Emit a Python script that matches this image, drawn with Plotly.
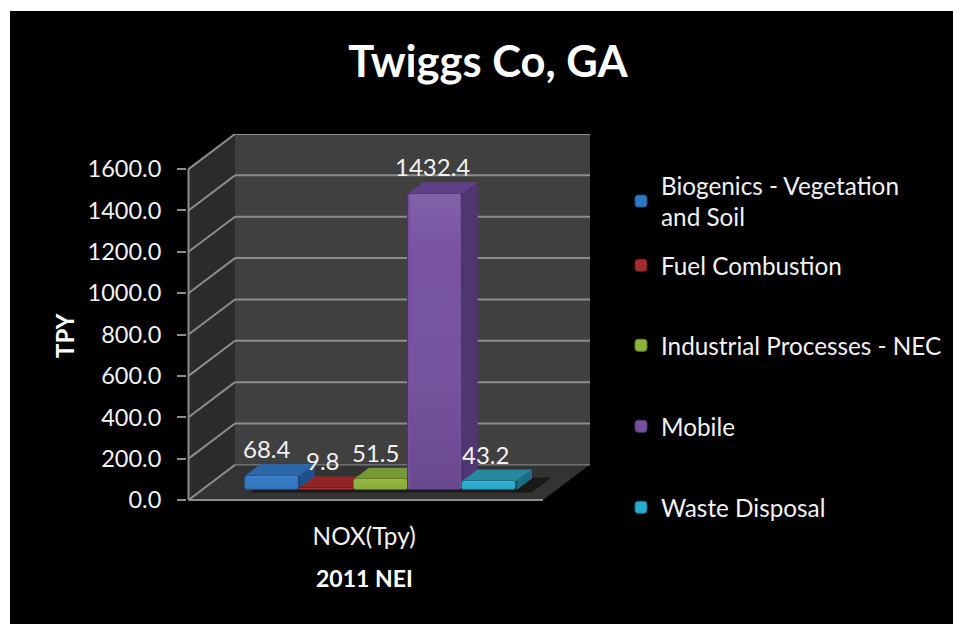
import plotly.graph_objects as go

series = ["Biogenics - Vegetation<br>and Soil", "Fuel Combustion", "Industrial Processes - NEC", "Mobile", "Waste Disposal"]
values = [68.4, 9.8, 51.5, 1432.4, 43.2]
front_colors = ["#2f78c4", "#a52c2c", "#8db33a", "#75509f", "#28acd0"]
top_colors = ["#2a66a8", "#8f2525", "#759a34", "#5f4088", "#26899f"]
side_colors = ["#20508a", "#6e1c1c", "#5f7d2a", "#4f3571", "#1c6e82"]
label_shift = [-5, -3, -5.5, -3, -3.5]
y_ticks = [0, 200, 400, 600, 800, 1000, 1200, 1400, 1600]
category = "NOX(Tpy)"
x_title = "2011 NEI"
y_title = "TPY"
title = "Twiggs Co, GA"
FONT = "Lato, Carlito, Calibri, sans-serif"
TEXT = "#f2f2f2"

W, H = 953, 624
L, R, T, B = 187, 590, 134, 502
PX_Y = 0.20625        # pixels per value unit
PX_X = 54.3           # pixels per bar slot
DX, DY = 46.5 / PX_X, 35 / PX_Y        # wall depth
BX, BY = 15.5 / PX_X, 11.5 / PX_Y      # bar depth
XMIN = -1.5 / PX_X
YMIN = -2 / PX_Y
YTOP = 1600 + DY
XMAX = XMIN + (R - L) / PX_X
FLOOR_W = 354.5 / PX_X
OFFX, OFFY = 0.286 * DX, 0.286 * DY
START = 1.04
centers = [START + 0.5 + i for i in range(len(values))]


def poly(pts, fill, line=None, width=0):
    path = "M " + " L ".join(f"{x},{y}" for x, y in pts) + " Z"
    return dict(type="path", path=path, xref="x", yref="y", layer="below", fillcolor=fill,
                line=dict(color=line or fill, width=width))


def seg(x0, y0, x1, y1, color="#8c8c8c", width=2):
    return dict(type="line", x0=x0, y0=y0, x1=x1, y1=y1, xref="x", yref="y", layer="below",
                line=dict(color=color, width=width))


def px_x(p):
    return (p - L) / (R - L)


def px_y(p):
    return (B - p) / (B - T)


shapes = [
    dict(type="rect", xref="paper", yref="paper", x0=px_x(10), x1=px_x(W + 5), y0=px_y(H + 5), y1=px_y(11),
         fillcolor="#000000", line=dict(width=0), layer="below"),
    poly([(DX, DY), (XMAX, DY), (XMAX, YTOP), (DX, YTOP)], "#404040"),
    poly([(0, 0), (DX, DY), (DX, YTOP), (0, 1600)], "#2b2b2b"),
    poly([(0, 0), (FLOOR_W, 0), (FLOOR_W + DX, DY), (DX, DY)], "#333333"),
]
for t in y_ticks[1:]:
    shapes.append(seg(0, t, DX, t + DY))
    shapes.append(seg(DX, t + DY, XMAX, t + DY))
shapes += [seg(0, 0, DX, DY), seg(DX, DY, XMAX, DY, width=1), seg(0, 0, 0, 1600), seg(0, 0, FLOOR_W, 0)]
# soft floor shadow under the bars
sx0, sx1 = START + OFFX - 0.15, START + OFFX + len(values)
shapes.append(poly([(sx0, OFFY - 12), (sx1 + 0.03, OFFY - 12), (sx1 + BX + 0.12, OFFY + BY + 5),
                    (sx0 + BX + 0.2, OFFY + BY + 5)], "rgba(0,0,0,0.5)"))
# depth faces of each bar, painted left to right
for i, v in enumerate(values):
    x0 = centers[i] - 0.5
    x1 = x0 + 1
    shapes.append(poly([(x1, OFFY), (x1 + BX, OFFY + BY), (x1 + BX, OFFY + BY + v), (x1, OFFY + v)], side_colors[i]))
    shapes.append(poly([(x0, OFFY + v), (x1, OFFY + v), (x1 + BX, OFFY + BY + v), (x0 + BX, OFFY + BY + v)], top_colors[i]))

fig = go.Figure()
legend_y = [163, 243, 323, 404, 485]
legends = {}
for i, (name, v) in enumerate(zip(series, values)):
    key = "legend" if i == 0 else f"legend{i + 1}"
    legends[key] = dict(x=px_x(621), y=px_y(legend_y[i]), xanchor="left", yanchor="top",
                        bgcolor="rgba(0,0,0,0)", itemwidth=30, borderwidth=0,
                        font=dict(family=FONT, size=24.3, color=TEXT), title=dict(text=""))
    fig.add_trace(go.Bar(x=[centers[i]], y=[v], base=[OFFY], width=[1], name=name, legend=key,
                         marker=dict(color=front_colors[i], line=dict(color=side_colors[i], width=1)),
                         hovertemplate=f"%{{y:.1f}}<extra></extra>"))
    # glossy sheen on the front face
    x0, x1 = centers[i] - 0.46, centers[i] + 0.46
    fig.add_trace(go.Scatter(x=[x0, x1, x1, x0, x0], y=[OFFY + v, OFFY + v, OFFY, OFFY, OFFY + v], mode="lines",
                             fill="toself", line=dict(width=0), showlegend=False, hoverinfo="skip",
                             fillgradient=dict(type="vertical",
                                               colorscale=[[0, "rgba(0,0,0,0.10)"], [0.8, "rgba(255,255,255,0.02)"],
                                                           [1, "rgba(255,255,255,0.10)"]])))

annotations = [
    dict(x=c, y=OFFY + v, xref="x", yref="y", yshift=27, xshift=s, text=f"{v:.1f}", showarrow=False,
         font=dict(family=FONT, size=24, color=TEXT))
    for c, v, s in zip(centers, values, label_shift)
]
annotations.append(dict(x=px_x(64), y=px_y(336), xref="paper", yref="paper", text=y_title, textangle=-90,
                        xanchor="center", yanchor="middle", showarrow=False,
                        font=dict(family=FONT, size=24, color="#ffffff", weight="bold")))
annotations.append(dict(x=FLOOR_W / 2 - 0.03, y=px_y(578), xref="x", yref="paper", text=x_title,
                        xanchor="center", yanchor="middle", showarrow=False,
                        font=dict(family=FONT, size=23, color="#ffffff", weight="bold")))

fig.update_layout(
    width=W, height=H, margin=dict(l=L, r=W - R, t=T, b=H - B, autoexpand=False),
    paper_bgcolor="#ffffff", plot_bgcolor="rgba(0,0,0,0)", shapes=shapes, annotations=annotations,
    barcornerradius=3, bargap=0, legend=legends["legend"],
    title=dict(text=title, x=488 / W, y=1 - 62 / H, xanchor="center", yanchor="middle",
               font=dict(family=FONT, size=43.5, color="#ffffff", weight="bold")),
    xaxis=dict(range=[XMIN, XMAX], tickvals=[FLOOR_W / 2 - 0.03], ticktext=[category], showgrid=False, zeroline=False,
               showline=False, ticks="", tickfont=dict(family=FONT, size=24.3, color=TEXT), ticklabelstandoff=18),
    yaxis=dict(range=[YMIN, YTOP], tickvals=y_ticks, tickformat=".1f", showgrid=False, zeroline=False,
               showline=False, ticks="outside", ticklen=9, tickwidth=2, tickcolor="#8c8c8c", ticklabelstandoff=11,
               tickfont=dict(family=FONT, size=23.5, color=TEXT)),
)
for key, val in legends.items():
    if key != "legend":
        fig.layout[key] = val

fig.write_html("out.html", config={"displayModeBar": False},
               post_script="document.body.style.margin='0';document.documentElement.style.overflow='hidden';")
